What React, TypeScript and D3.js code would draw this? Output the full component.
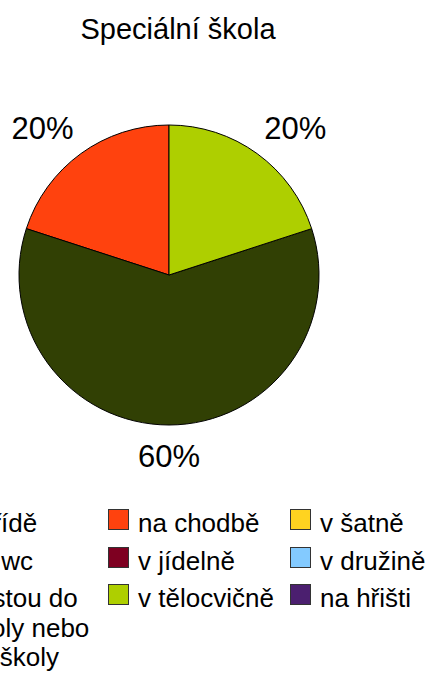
import React, { useRef, useEffect } from 'react';
import * as d3 from 'd3';

const categories = [
  'v třídě', 'na chodbě', 'v šatně',
  'na wc', 'v jídelně', 'v družině',
  'cestou do školy nebo ze školy', 'v tělocvičně', 'na hřišti',
];
const values = [0, 1, 0, 0, 0, 0, 3, 1, 0];
const colors = [
  '#004586', '#ff420e', '#ffd320',
  '#579d1c', '#7e0021', '#83caff',
  '#314004', '#aecf00', '#4b1f6f',
];
// legend text split into lines as in the picture
const legendLines = [
  ['v třídě'], ['na chodbě'], ['v šatně'],
  ['na wc'], ['v jídelně'], ['v družině'],
  ['cestou do', 'školy nebo', 'ze školy'], ['v tělocvičně'], ['na hřišti'],
];
const title = 'Speciální škola';

const FONT = '"Liberation Sans", Arial, sans-serif';

function PieChart(props: { width: number; height: number }) {
  const { width, height } = props;
  const svgRef = useRef<SVGSVGElement>(null);

  const cx = 169;
  const cy = 275;
  const radius = 150;

  useEffect(() => {
    const svg = d3.select(svgRef.current);
    svg.selectAll('*').remove();

    svg.append('text')
      .attr('x', 178)
      .attr('y', 39)
      .attr('text-anchor', 'middle')
      .attr('font-family', FONT)
      .attr('font-size', 29)
      .attr('fill', '#000')
      .text(title);

    const data = categories.map((c, i) => ({ name: c, value: values[i], color: colors[i] }));
    const total = d3.sum(values);

    // counterclockwise from the top, like the original
    const pie = d3.pie<any>()
      .sort(null)
      .value(d => d.value)
      .startAngle(0)
      .endAngle(-2 * Math.PI);
    const arcs = pie(data).filter(a => a.data.value > 0);

    const arc = d3.arc<any>().innerRadius(0).outerRadius(radius);

    const g = svg.append('g').attr('transform', `translate(${cx},${cy})`);
    g.selectAll('path').data(arcs).enter().append('path')
      .attr('d', arc)
      .attr('fill', d => d.data.color)
      .attr('stroke', '#000')
      .attr('stroke-width', 1);

    const fmt = d3.format('.0%');
    const labelR = 170;
    const padX = 45;
    const padY = 11;
    g.selectAll('text.pct').data(arcs).enter().append('text')
      .attr('class', 'pct')
      .attr('x', d => {
        const a = (d.startAngle + d.endAngle) / 2;
        return Math.sin(a) * (labelR + padX);
      })
      .attr('y', d => {
        const a = (d.startAngle + d.endAngle) / 2;
        return -Math.cos(a) * (labelR + padY);
      })
      .attr('text-anchor', 'middle')
      .attr('dominant-baseline', 'central')
      .attr('font-family', FONT)
      .attr('font-size', 31)
      .attr('fill', '#000')
      .text(d => fmt(d.data.value / total));

    // legend: 3 columns, 3 rows (first column runs off the left edge)
    const colX = [-65, 108, 290];
    const rowY = [509, 547, 584];
    const sw = 20;
    const legend = svg.append('g');
    data.forEach((d, i) => {
      const col = i % 3;
      const row = Math.floor(i / 3);
      legend.append('rect')
        .attr('x', colX[col] + 0.5)
        .attr('y', rowY[row] + 0.5)
        .attr('width', sw)
        .attr('height', sw)
        .attr('fill', d.color)
        .attr('stroke', '#333')
        .attr('stroke-width', 1);
      const t = legend.append('text')
        .attr('x', colX[col] + 30)
        .attr('y', rowY[row] + 23)
        .attr('font-family', FONT)
        .attr('font-size', 26)
        .attr('fill', '#000');
      legendLines[i].forEach((line, k) => {
        t.append('tspan')
          .attr('x', colX[col] + 30)
          .attr('dy', k === 0 ? 0 : 29.5)
          .text(line);
      });
    });
  });

  return (
    <svg ref={svgRef} width={width} height={height}
      style={{ position: 'absolute', left: 0, top: 0, background: '#fff', overflow: 'hidden' }} />
  );
}

export default function App() {
  return <PieChart width={425} height={675} />;
}
